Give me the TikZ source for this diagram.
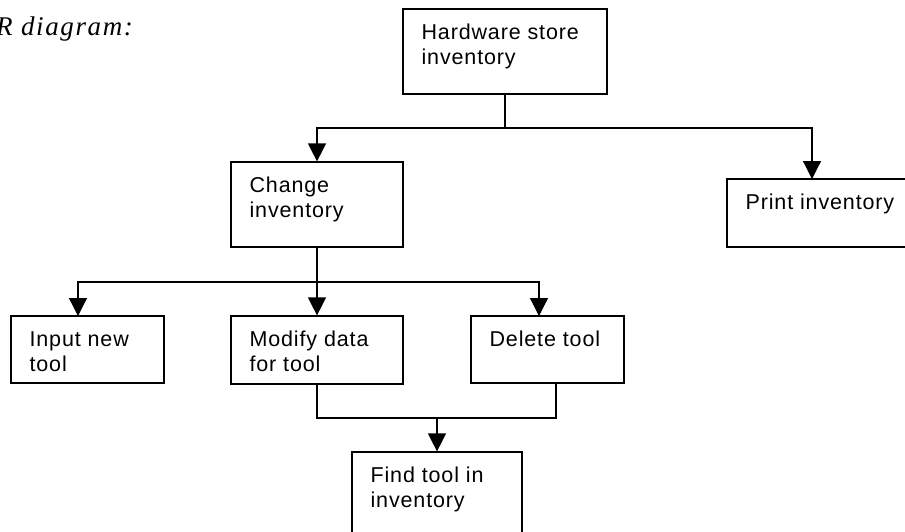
\documentclass[tikz,border=0pt]{standalone}
\usepackage{fontspec}
\newfontfamily\boxfont{Liberation Sans}[LetterSpace=4]
\newfontfamily\headfont{Liberation Serif}[LetterSpace=6]
\usetikzlibrary{arrows.meta,calc}
\begin{document}
\begin{tikzpicture}[x=1pt,y=-1pt,
  box/.style={draw,line width=1.2pt,inner sep=0pt},
  label/.style={anchor=base west,inner sep=0pt,align=left,
    font=\boxfont\fontsize{21.5}{25}\selectfont},
  link/.style={line width=1.2pt},
  arr/.style={link,-{Triangle[length=18pt,width=18pt]}}]
\useasboundingbox (0,0) rectangle (905,531);
% heading
\node[anchor=base west,inner sep=0pt,font=\headfont\itshape\fontsize{27}{31}\selectfont]
  (head) at (-4,35) {R diagram:};
% boxes
\node[box,minimum width=204pt,minimum height=85pt] (hw)   at (505,51.5) {};
\node[box,minimum width=172pt,minimum height=85pt] (chg)  at (317,204.5) {};
\node[box,minimum width=188pt,minimum height=68pt] (prt)  at (821,213) {};
\node[box,minimum width=153pt,minimum height=67pt] (inp)  at (87.5,349.5) {};
\node[box,minimum width=172pt,minimum height=68pt] (mod)  at (317,350) {};
\node[box,minimum width=153pt,minimum height=67pt] (del)  at (547.5,349.5) {};
\node[box,minimum width=170pt,minimum height=88pt] (find) at (437,496) {};
% box texts: the base anchor sits on the last line, so two-line texts go 25pt lower
\node[label] (hwt)   at ($(hw.north west)+(19,56)$)   {Hardware store\\inventory};
\node[label] (chgt)  at ($(chg.north west)+(19,56)$)  {Change\\inventory};
\node[label] (prtt)  at ($(prt.north west)+(19,31)$)  {Print inventory};
\node[label] (inpt)  at ($(inp.north west)+(19,56)$)  {Input new\\tool};
\node[label] (modt)  at ($(mod.north west)+(19,56)$)  {Modify data\\for tool};
\node[label] (delt)  at ($(del.north west)+(19,31)$)  {Delete tool};
\node[label] (findt) at ($(find.north west)+(19,56)$) {Find tool in\\inventory};
% junction points
\coordinate (j1) at (505,128);
\coordinate (j2) at (317,282);
\coordinate (j3) at (437,418);
\coordinate (prtin) at (812,179);
\coordinate (inpin) at (78,316);
\coordinate (delin) at (539,316);
\coordinate (delout) at (556,383);
% connectors
\draw[link] (hw.south) -- (j1);
\draw[arr] (j1) -| (chg.north);
\draw[arr] (j1) -| (prtin);
\draw[link] (chg.south) -- (j2);
\draw[arr] (j2) -| (inpin);
\draw[arr] (j2) -- (mod.north);
\draw[arr] (j2) -| (delin);
\draw[link] (mod.south) |- (j3);
\draw[link] (delout) |- (j3);
\draw[arr] (j3) -- (find.north);
\end{tikzpicture}
\end{document}
